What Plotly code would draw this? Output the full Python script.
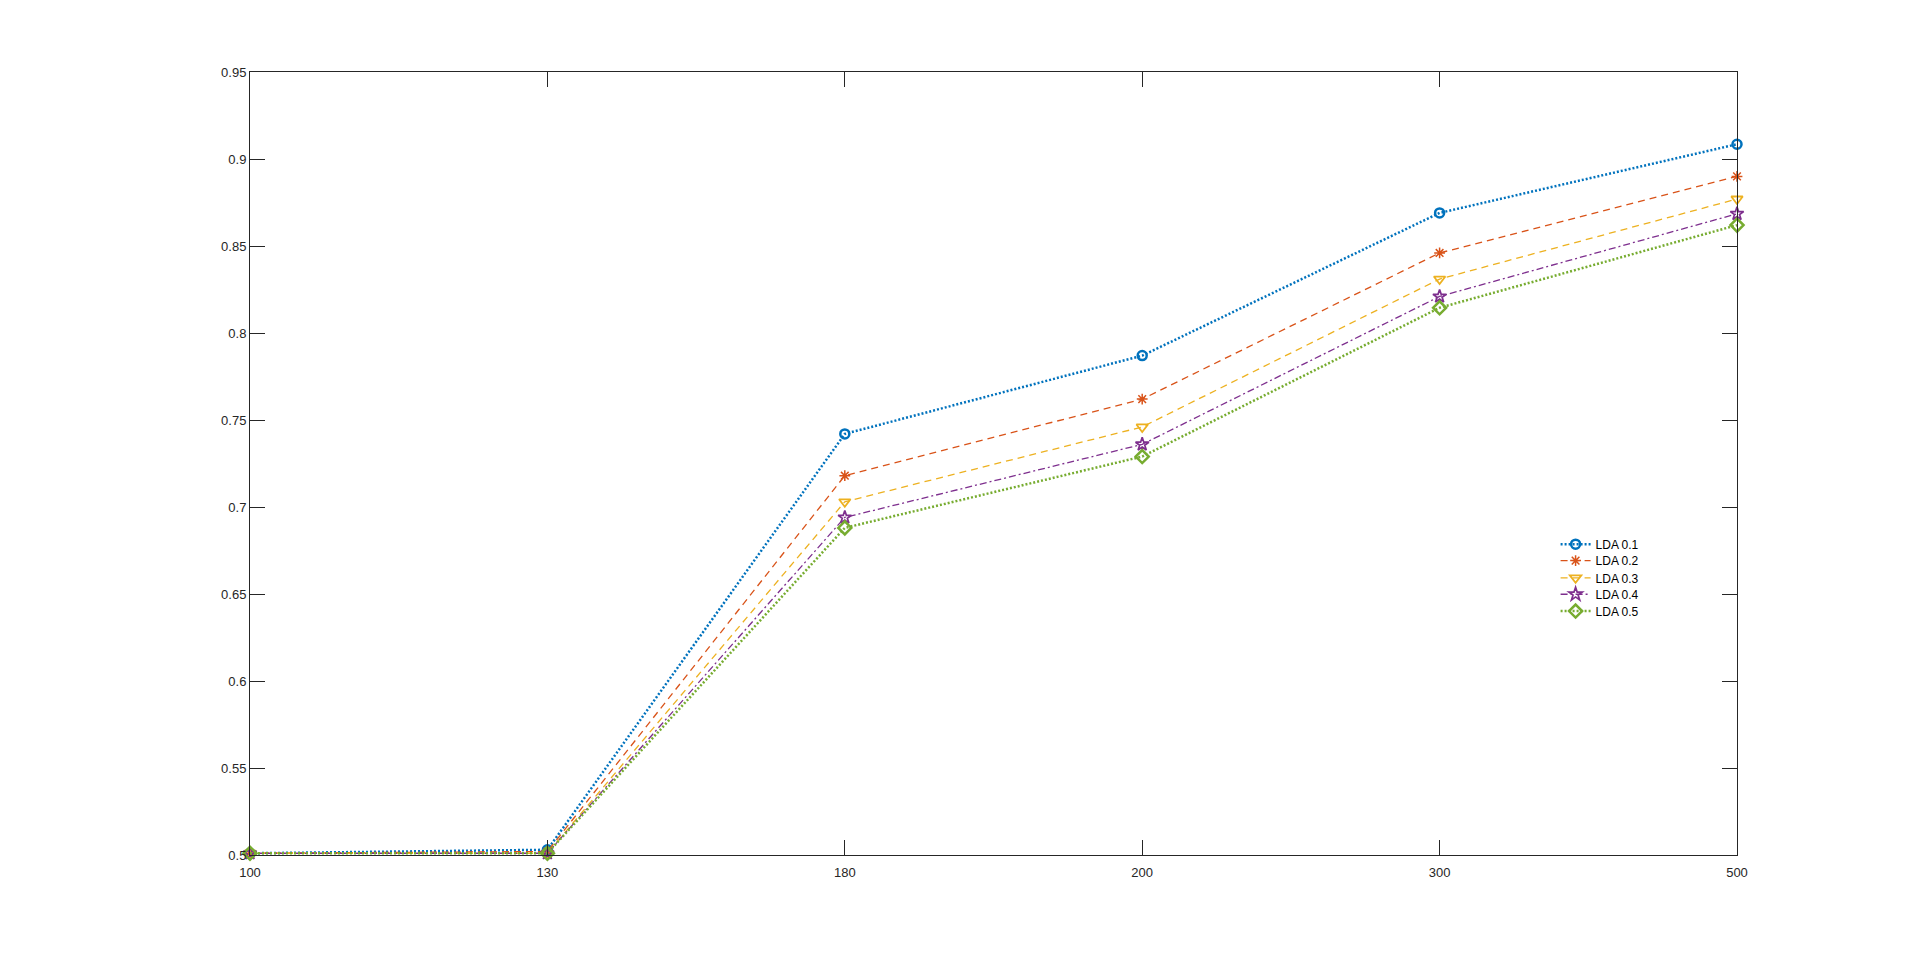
import plotly.graph_objects as go

# sample sizes (categorical x axis)
x_labels = ["100", "130", "180", "200", "300", "500"]

lda_01 = [0.501, 0.503, 0.742, 0.787, 0.869, 0.9085]
lda_02 = [0.501, 0.502, 0.718, 0.762, 0.846, 0.890]
lda_03 = [0.501, 0.501, 0.703, 0.746, 0.831, 0.877]
lda_04 = [0.501, 0.501, 0.694, 0.736, 0.821, 0.8685]
lda_05 = [0.501, 0.501, 0.688, 0.729, 0.8145, 0.862]

series_names = ["LDA 0.1", "LDA 0.2", "LDA 0.3", "LDA 0.4", "LDA 0.5"]

y_ticks = [0.5, 0.55, 0.6, 0.65, 0.7, 0.75, 0.8, 0.85, 0.9, 0.95]
y_tick_text = ["0.5", "0.55", "0.6", "0.65", "0.7", "0.75", "0.8", "0.85", "0.9", "0.95"]

# matlab-ish styling per series
styles = [
    dict(color="#0072BD", dash="2px,2px", width=2.5, symbol="circle-open", size=9, mlw=2.5),
    dict(color="#D95319", dash="7px,5px", width=1.3, symbol="asterisk-open", size=9, mlw=1.5),
    dict(color="#EDB120", dash="7px,5px", width=1.3, symbol="triangle-down-open", size=10, mlw=1.8),
    dict(color="#7E2F8E", dash="7px,3px,2px,3px", width=1.3, symbol="star-open", size=10, mlw=1.7),
    dict(color="#77AC30", dash="2px,2px", width=2.5, symbol="diamond-open", size=10, mlw=2.5),
]

# one legend per trace so the rows can sit tighter than plotly's default spacing
legend_ids = ["legend", "legend2", "legend3", "legend4", "legend5"]
legend_rows_y = [0.397, 0.376, 0.354, 0.333, 0.3116]

fig = go.Figure()
for name, ys, st, lid in zip(series_names, [lda_01, lda_02, lda_03, lda_04, lda_05], styles, legend_ids):
    fig.add_trace(go.Scatter(
        x=x_labels, y=ys, name=name, mode="lines+markers",
        line=dict(color=st["color"], dash=st["dash"], width=st["width"]),
        marker=dict(symbol=st["symbol"], size=st["size"], color=st["color"],
                    line=dict(color=st["color"], width=st["mlw"])),
        cliponaxis=False, legend=lid,
    ))

axis_common = dict(
    showline=True, linecolor="#262626", linewidth=1, mirror="allticks",
    ticks="inside", ticklen=15, tickcolor="#262626", tickwidth=1,
    showgrid=False, zeroline=False,
    tickfont=dict(family="Liberation Sans, Arial", size=13, color="#262626"),
)

fig.update_xaxes(type="category", range=[0, 5], ticklabelstandoff=5, **axis_common)
fig.update_yaxes(range=[0.5, 0.95], tickvals=y_ticks, ticktext=y_tick_text, **axis_common)

legends = {}
for lid, ly in zip(legend_ids, legend_rows_y):
    legends[lid] = dict(x=0.878, y=ly, xanchor="left", yanchor="middle",
                        bgcolor="rgba(255,255,255,0)", borderwidth=0,
                        font=dict(family="Liberation Sans, Arial", size=12, color="black"))

fig.update_layout(
    width=1904, height=946,
    paper_bgcolor="white", plot_bgcolor="white",
    margin=dict(l=242, r=175, t=64, b=99),
    font=dict(family="Liberation Sans, Arial", size=13, color="#262626"),
    showlegend=True,
    **legends,
)

fig.write_html("out.html")
